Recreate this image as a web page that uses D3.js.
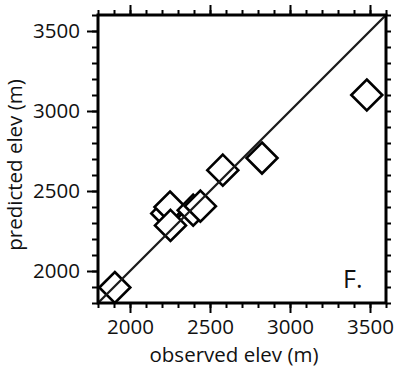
<!DOCTYPE html>
<html>
<head>
<meta charset="utf-8">
<script src="https://cdn.jsdelivr.net/npm/d3@7"></script>
<style>
  body { margin: 0; background: #fff; }
  svg text { font-family: "Open Sans", "Noto Sans", sans-serif; fill: #111; }
</style>
</head>
<body>
<svg id="chart" width="398" height="372"></svg>
<script>
const observed = [1905, 2230, 2250, 2253, 2395, 2440, 2580, 2825, 3480];
const predicted = [1897, 2360, 2400, 2285, 2380, 2405, 2630, 2706, 3100];
const majorTicks = [2000, 2500, 3000, 3500];
const minorTicks = d3.range(1800, 3601, 100);

const svg = d3.select("#chart");

const x = d3.scaleLinear().domain([1800, 3600]).range([98, 386]);
const y = d3.scaleLinear().domain([1800, 3600]).range([303, 15]);

function styleAxis(g) {
  g.select(".domain").remove();
  g.selectAll("line").attr("stroke", "#000").attr("stroke-width", 2);
  g.selectAll("text").attr("font-size", "20.5px").attr("fill", "#111");
}

// minor ticks all round
svg.append("g")
  .attr("transform", "translate(0,303)")
  .call(d3.axisBottom(x).tickValues(minorTicks).tickSize(5).tickFormat(""))
  .call(styleAxis);
svg.append("g")
  .attr("transform", "translate(0,15)")
  .call(d3.axisTop(x).tickValues(minorTicks).tickSize(5).tickFormat(""))
  .call(styleAxis);
svg.append("g")
  .attr("transform", "translate(98,0)")
  .call(d3.axisLeft(y).tickValues(minorTicks).tickSize(6).tickFormat(""))
  .call(styleAxis);
svg.append("g")
  .attr("transform", "translate(386,0)")
  .call(d3.axisRight(y).tickValues(minorTicks).tickSize(5).tickFormat(""))
  .call(styleAxis);

// major ticks with labels
svg.append("g")
  .attr("transform", "translate(0,303)")
  .call(d3.axisBottom(x).tickValues(majorTicks).tickSize(10).tickPadding(6).tickFormat(d3.format("d")))
  .call(styleAxis);
svg.append("g")
  .attr("transform", "translate(0,15)")
  .call(d3.axisTop(x).tickValues(majorTicks).tickSize(10).tickFormat(""))
  .call(styleAxis);
svg.append("g")
  .attr("transform", "translate(98,0)")
  .call(d3.axisLeft(y).tickValues(majorTicks).tickSize(11).tickPadding(7).tickFormat(d3.format("d")))
  .call(styleAxis);

// diamonds
const diamond = "M0,-15.5L15.5,0L0,15.5L-15.5,0Z";
svg.append("g")
  .selectAll("path")
  .data(observed.map((d, i) => ({ obs: d, pred: predicted[i] })))
  .enter()
  .append("path")
  .attr("d", diamond)
  .attr("transform", d => "translate(" + x(d.obs) + "," + y(d.pred) + ")")
  .attr("fill", "white")
  .attr("stroke", "#000")
  .attr("stroke-width", 2.6)
  .attr("stroke-linejoin", "miter");

// 1:1 line
svg.append("line")
  .attr("x1", x(1800))
  .attr("y1", y(1800))
  .attr("x2", x(3600))
  .attr("y2", y(3600))
  .attr("stroke", "#1a1a1a")
  .attr("stroke-width", 2.3);

// frame
svg.append("rect")
  .attr("x", 98)
  .attr("y", 15)
  .attr("width", 288)
  .attr("height", 288)
  .attr("fill", "none")
  .attr("stroke", "#000")
  .attr("stroke-width", 3);

svg.append("text")
  .attr("x", 343)
  .attr("y", 288)
  .attr("font-size", "25px")
  .text("F.");

svg.append("text")
  .attr("x", 234)
  .attr("y", 362)
  .attr("text-anchor", "middle")
  .attr("font-size", "20.5px")
  .text("observed elev (m)");

svg.append("text")
  .attr("transform", "translate(22,165) rotate(-90)")
  .attr("text-anchor", "middle")
  .attr("font-size", "20.5px")
  .text("predicted elev (m)");
</script>
</body>
</html>
